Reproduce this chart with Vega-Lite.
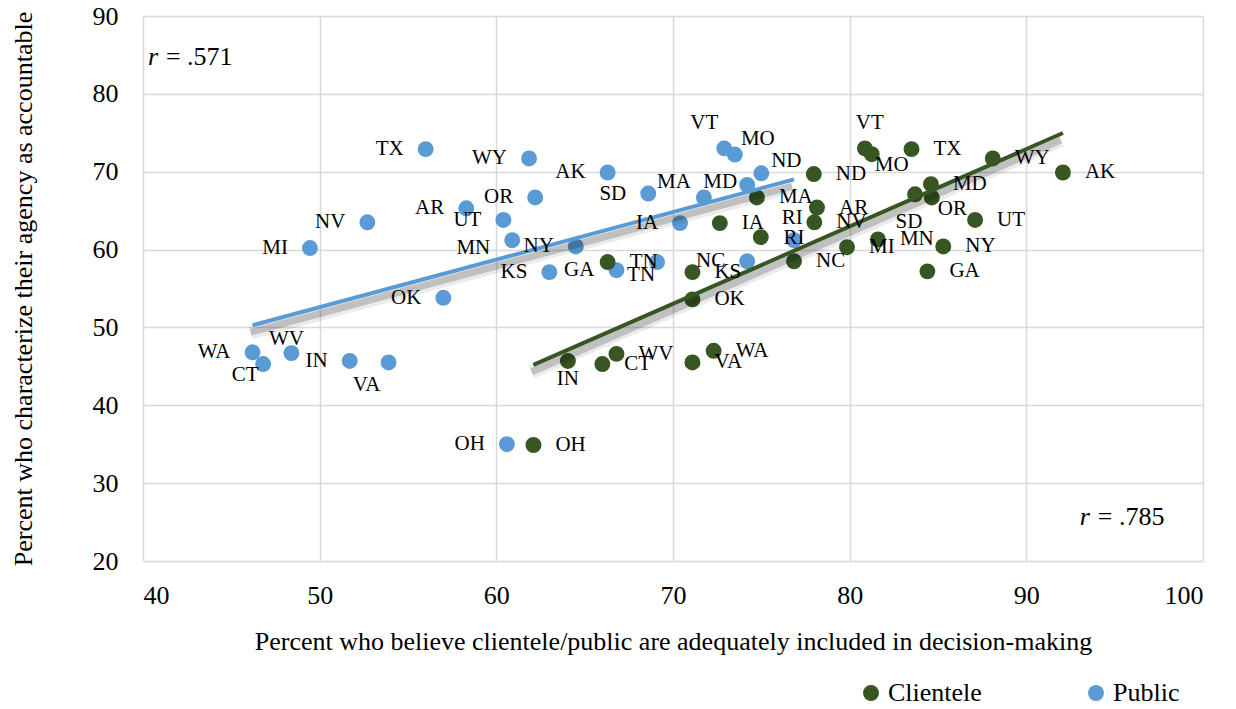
{
  "$schema": "https://vega.github.io/schema/vega-lite/v6.json",
  "autosize": "none",
  "width": 1060,
  "height": 545,
  "padding": {"left": 143, "top": 16, "right": 33, "bottom": 148},
  "background": "white",
  "config": {
    "view": {"stroke": null},
    "font": "Liberation Serif",
    "text": {"font": "Liberation Serif"},
    "style": {
      "guide-label": {"font": "Liberation Serif", "fontSize": 26, "fill": "#000000"},
      "guide-title": {"font": "Liberation Serif", "fontSize": 26, "fill": "#000000"}
    },
    "axis": {
      "grid": true, "gridColor": "#d9d9d9", "gridWidth": 1.5,
      "domain": false, "ticks": false, "tickSize": 0,
      "labelFont": "Liberation Serif", "labelFontSize": 26, "labelColor": "#000000",
      "titleFont": "Liberation Serif", "titleFontSize": 26, "titleFontWeight": "normal", "titleColor": "#000000"
    },
    "legend": {
      "labelFont": "Liberation Serif", "labelFontSize": 26, "labelColor": "#000000"
    }
  },
  "data": {"values": [
    {"state": "TX", "series": "Public", "x": 56.0, "y": 72.9},
    {"state": "WY", "series": "Public", "x": 61.85, "y": 71.7},
    {"state": "OR", "series": "Public", "x": 62.2, "y": 66.7},
    {"state": "AR", "series": "Public", "x": 58.3, "y": 65.3},
    {"state": "NV", "series": "Public", "x": 52.7, "y": 63.5},
    {"state": "UT", "series": "Public", "x": 60.4, "y": 63.8},
    {"state": "MI", "series": "Public", "x": 49.45, "y": 60.2},
    {"state": "MN", "series": "Public", "x": 60.9, "y": 61.2},
    {"state": "OK", "series": "Public", "x": 57.0, "y": 53.8},
    {"state": "WA", "series": "Public", "x": 46.2, "y": 46.8},
    {"state": "CT", "series": "Public", "x": 46.8, "y": 45.3},
    {"state": "WV", "series": "Public", "x": 48.4, "y": 46.7},
    {"state": "IN", "series": "Public", "x": 51.7, "y": 45.7},
    {"state": "VA", "series": "Public", "x": 53.9, "y": 45.5},
    {"state": "OH", "series": "Public", "x": 60.6, "y": 35.0},
    {"state": "AK", "series": "Public", "x": 66.3, "y": 69.9},
    {"state": "SD", "series": "Public", "x": 68.6, "y": 67.2},
    {"state": "MA", "series": "Public", "x": 71.75, "y": 66.7},
    {"state": "MD", "series": "Public", "x": 74.2, "y": 68.3},
    {"state": "ND", "series": "Public", "x": 75.0, "y": 69.8},
    {"state": "VT", "series": "Public", "x": 72.9, "y": 73.0},
    {"state": "MO", "series": "Public", "x": 73.5, "y": 72.2},
    {"state": "IA", "series": "Public", "x": 70.4, "y": 63.4},
    {"state": "NY", "series": "Public", "x": 64.5, "y": 60.4},
    {"state": "KS", "series": "Public", "x": 63.0, "y": 57.1},
    {"state": "GA", "series": "Public", "x": 66.8, "y": 57.35},
    {"state": "TN", "series": "Public", "x": 69.1, "y": 58.4},
    {"state": "NC", "series": "Public", "x": 74.2, "y": 58.5},
    {"state": "RI", "series": "Public", "x": 76.85, "y": 61.2},
    {"state": "VT", "series": "Clientele", "x": 80.86, "y": 73.0},
    {"state": "MO", "series": "Clientele", "x": 81.25, "y": 72.25},
    {"state": "TX", "series": "Clientele", "x": 83.5, "y": 72.9},
    {"state": "WY", "series": "Clientele", "x": 88.1, "y": 71.7},
    {"state": "AK", "series": "Clientele", "x": 92.07, "y": 69.9},
    {"state": "ND", "series": "Clientele", "x": 77.97, "y": 69.7},
    {"state": "MD", "series": "Clientele", "x": 84.6, "y": 68.4},
    {"state": "SD", "series": "Clientele", "x": 83.7, "y": 67.1},
    {"state": "OR", "series": "Clientele", "x": 84.65, "y": 66.7},
    {"state": "UT", "series": "Clientele", "x": 87.1, "y": 63.8},
    {"state": "MA", "series": "Clientele", "x": 74.75, "y": 66.7},
    {"state": "AR", "series": "Clientele", "x": 78.15, "y": 65.4},
    {"state": "NV", "series": "Clientele", "x": 78.0, "y": 63.5},
    {"state": "IA", "series": "Clientele", "x": 72.65, "y": 63.4},
    {"state": "RI", "series": "Clientele", "x": 74.97, "y": 61.6},
    {"state": "NC", "series": "Clientele", "x": 76.85, "y": 58.5},
    {"state": "MI", "series": "Clientele", "x": 79.85, "y": 60.3},
    {"state": "MN", "series": "Clientele", "x": 81.6, "y": 61.3},
    {"state": "NY", "series": "Clientele", "x": 85.3, "y": 60.4},
    {"state": "GA", "series": "Clientele", "x": 84.4, "y": 57.2},
    {"state": "KS", "series": "Clientele", "x": 71.1, "y": 57.1},
    {"state": "OK", "series": "Clientele", "x": 71.1, "y": 53.6},
    {"state": "TN", "series": "Clientele", "x": 66.3, "y": 58.4},
    {"state": "OH", "series": "Clientele", "x": 62.1, "y": 34.9},
    {"state": "IN", "series": "Clientele", "x": 64.05, "y": 45.7},
    {"state": "CT", "series": "Clientele", "x": 66.0, "y": 45.3},
    {"state": "WV", "series": "Clientele", "x": 66.8, "y": 46.6},
    {"state": "VA", "series": "Clientele", "x": 71.1, "y": 45.5},
    {"state": "WA", "series": "Clientele", "x": 72.3, "y": 47.0}
  ]},
  "encoding": {
    "x": {"field": "x", "type": "quantitative",
      "scale": {"domain": [40, 100], "nice": false, "zero": false},
      "axis": {"values": [40, 50, 60, 70, 80, 90, 100], "labelPadding": 21, "titlePadding": 20,
        "labelFont": "Liberation Serif", "titleFont": "Liberation Serif",
        "title": "Percent who believe clientele/public are adequately included in decision-making"}},
    "y": {"field": "y", "type": "quantitative",
      "scale": {"domain": [20, 90], "nice": false, "zero": false},
      "axis": {"values": [20, 30, 40, 50, 60, 70, 80, 90], "labelPadding": 25, "titlePadding": 56,
        "labelFont": "Liberation Serif", "titleFont": "Liberation Serif",
        "title": "Percent who characterize their agency as accountable"}}
  },
  "layer": [
    {
      "mark": {"type": "point", "filled": true, "opacity": 1, "size": 254, "shape": "circle"},
      "encoding": {
        "color": {"field": "series", "type": "nominal",
          "scale": {"domain": ["Clientele", "Public"], "range": ["#375623", "#5b9bd5"]},
          "legend": {"title": null, "orient": "none", "legendX": 715, "legendY": 664, "direction": "horizontal",
            "symbolSize": 254, "symbolType": "circle", "symbolStrokeWidth": 0, "labelOffset": 4,
            "labelFont": "Liberation Serif", "labelFontSize": 26,
            "columnPadding": 101, "padding": 0}}
      }
    },
    {
      "transform": [{"regression": "y", "on": "x", "groupby": ["series"]}],
      "mark": {"type": "line", "color": "#000000", "opacity": 0.08, "strokeWidth": 14, "yOffset": 7, "xOffset": -2},
      "encoding": {"detail": {"field": "series"}}
    },
    {
      "transform": [{"regression": "y", "on": "x", "groupby": ["series"]}],
      "mark": {"type": "line", "color": "#000000", "opacity": 0.18, "strokeWidth": 7, "yOffset": 7, "xOffset": -2},
      "encoding": {"detail": {"field": "series"}}
    },
    {
      "transform": [{"filter": "datum.series === 'Public'"}, {"regression": "y", "on": "x"}],
      "mark": {"type": "line", "color": "#5b9bd5", "strokeWidth": 4},
      "encoding": {}
    },
    {
      "transform": [{"filter": "datum.series === 'Clientele'"}, {"regression": "y", "on": "x"}],
      "mark": {"type": "line", "color": "#375623", "strokeWidth": 4},
      "encoding": {}
    },
    {
      "transform": [{"filter": "datum.series === 'Public' && indexof(['VT','MO','ND','MA','WV','CT','VA','RI','TN','MN','MD'], datum.state) < 0"}],
      "mark": {"type": "text", "font": "Liberation Serif", "align": "right", "baseline": "middle", "dx": -22, "fontSize": 21, "color": "#000000"},
      "encoding": {"text": {"field": "state"}}
    },
    {
      "transform": [{"filter": "datum.series === 'Public' && datum.state === 'VT'"}],
      "mark": {"type": "text", "font": "Liberation Serif", "align": "center", "baseline": "middle", "dx": -20, "dy": -25, "fontSize": 21, "color": "#000000"},
      "encoding": {"text": {"field": "state"}}
    },
    {
      "transform": [{"filter": "datum.series === 'Public' && datum.state === 'MO'"}],
      "mark": {"type": "text", "font": "Liberation Serif", "align": "center", "baseline": "middle", "dx": 23, "dy": -16, "fontSize": 21, "color": "#000000"},
      "encoding": {"text": {"field": "state"}}
    },
    {
      "transform": [{"filter": "datum.series === 'Public' && datum.state === 'ND'"}],
      "mark": {"type": "text", "font": "Liberation Serif", "align": "center", "baseline": "middle", "dx": 25, "dy": -12, "fontSize": 21, "color": "#000000"},
      "encoding": {"text": {"field": "state"}}
    },
    {
      "transform": [{"filter": "datum.series === 'Public' && datum.state === 'MA'"}],
      "mark": {"type": "text", "font": "Liberation Serif", "align": "center", "baseline": "middle", "dx": -30, "dy": -15, "fontSize": 21, "color": "#000000"},
      "encoding": {"text": {"field": "state"}}
    },
    {
      "transform": [{"filter": "datum.series === 'Public' && datum.state === 'MD'"}],
      "mark": {"type": "text", "font": "Liberation Serif", "align": "right", "baseline": "middle", "dx": -10, "dy": -3, "fontSize": 21, "color": "#000000"},
      "encoding": {"text": {"field": "state"}}
    },
    {
      "transform": [{"filter": "datum.series === 'Public' && datum.state === 'MN'"}],
      "mark": {"type": "text", "font": "Liberation Serif", "align": "right", "baseline": "middle", "dx": -22, "dy": 8, "fontSize": 21, "color": "#000000"},
      "encoding": {"text": {"field": "state"}}
    },
    {
      "transform": [{"filter": "datum.series === 'Public' && datum.state === 'WV'"}],
      "mark": {"type": "text", "font": "Liberation Serif", "align": "center", "baseline": "middle", "dx": -5, "dy": -14, "fontSize": 21, "color": "#000000"},
      "encoding": {"text": {"field": "state"}}
    },
    {
      "transform": [{"filter": "datum.series === 'Public' && datum.state === 'CT'"}],
      "mark": {"type": "text", "font": "Liberation Serif", "align": "center", "baseline": "middle", "dx": -18, "dy": 11, "fontSize": 21, "color": "#000000"},
      "encoding": {"text": {"field": "state"}}
    },
    {
      "transform": [{"filter": "datum.series === 'Public' && datum.state === 'VA'"}],
      "mark": {"type": "text", "font": "Liberation Serif", "align": "center", "baseline": "middle", "dx": -22, "dy": 23, "fontSize": 21, "color": "#000000"},
      "encoding": {"text": {"field": "state"}}
    },
    {
      "transform": [{"filter": "datum.series === 'Public' && datum.state === 'RI'"}],
      "mark": {"type": "text", "font": "Liberation Serif", "align": "center", "baseline": "middle", "dx": 0, "dy": -2, "fontSize": 21, "color": "#000000"},
      "encoding": {"text": {"field": "state"}}
    },
    {
      "transform": [{"filter": "datum.series === 'Public' && datum.state === 'TN'"}],
      "mark": {"type": "text", "font": "Liberation Serif", "align": "right", "baseline": "middle", "dx": -2, "dy": 13, "fontSize": 21, "color": "#000000"},
      "encoding": {"text": {"field": "state"}}
    },
    {
      "transform": [{"filter": "datum.series === 'Clientele' && indexof(['VT','MO','SD','OR','RI','IN'], datum.state) < 0"}],
      "mark": {"type": "text", "font": "Liberation Serif", "align": "left", "baseline": "middle", "dx": 22, "fontSize": 21, "color": "#000000"},
      "encoding": {"text": {"field": "state"}}
    },
    {
      "transform": [{"filter": "datum.series === 'Clientele' && datum.state === 'VT'"}],
      "mark": {"type": "text", "font": "Liberation Serif", "align": "center", "baseline": "middle", "dx": 5, "dy": -25, "fontSize": 21, "color": "#000000"},
      "encoding": {"text": {"field": "state"}}
    },
    {
      "transform": [{"filter": "datum.series === 'Clientele' && datum.state === 'MO'"}],
      "mark": {"type": "text", "font": "Liberation Serif", "align": "left", "baseline": "middle", "dx": 3, "dy": 11, "fontSize": 21, "color": "#000000"},
      "encoding": {"text": {"field": "state"}}
    },
    {
      "transform": [{"filter": "datum.series === 'Clientele' && datum.state === 'SD'"}],
      "mark": {"type": "text", "font": "Liberation Serif", "align": "center", "baseline": "middle", "dx": -6, "dy": 28, "fontSize": 21, "color": "#000000"},
      "encoding": {"text": {"field": "state"}}
    },
    {
      "transform": [{"filter": "datum.series === 'Clientele' && datum.state === 'OR'"}],
      "mark": {"type": "text", "font": "Liberation Serif", "align": "left", "baseline": "middle", "dx": 6, "dy": 12, "fontSize": 21, "color": "#000000"},
      "encoding": {"text": {"field": "state"}}
    },
    {
      "transform": [{"filter": "datum.series === 'Clientele' && datum.state === 'RI'"}],
      "mark": {"type": "text", "font": "Liberation Serif", "align": "left", "baseline": "middle", "dx": 21, "dy": -19, "fontSize": 21, "color": "#000000"},
      "encoding": {"text": {"field": "state"}}
    },
    {
      "transform": [{"filter": "datum.series === 'Clientele' && datum.state === 'IN'"}],
      "mark": {"type": "text", "font": "Liberation Serif", "align": "center", "baseline": "middle", "dx": 0, "dy": 18, "fontSize": 21, "color": "#000000"},
      "encoding": {"text": {"field": "state"}}
    },
    {
      "data": {"values": [{"label": "r", "rest": "= .571", "px": 40.28, "py": 84.7}, {"label": "r", "rest": "= .785", "px": 93.03, "py": 25.65}]},
      "mark": {"type": "text", "font": "Liberation Serif", "align": "left", "baseline": "middle", "fontSize": 26, "fontStyle": "italic", "color": "#000000"},
      "encoding": {"x": {"field": "px", "type": "quantitative"}, "y": {"field": "py", "type": "quantitative"}, "text": {"field": "label"}}
    },
    {
      "data": {"values": [{"label": "r", "rest": "= .571", "px": 40.28, "py": 84.7}, {"label": "r", "rest": "= .785", "px": 93.03, "py": 25.65}]},
      "mark": {"type": "text", "font": "Liberation Serif", "align": "left", "baseline": "middle", "fontSize": 26, "dx": 18, "color": "#000000"},
      "encoding": {"x": {"field": "px", "type": "quantitative"}, "y": {"field": "py", "type": "quantitative"}, "text": {"field": "rest"}}
    }
  ]
}
